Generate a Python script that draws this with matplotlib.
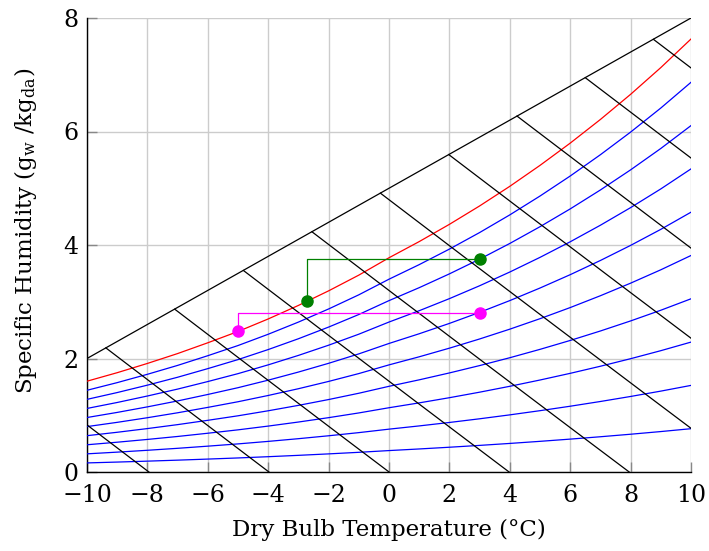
import numpy as np
import matplotlib
matplotlib.use("Agg")
import matplotlib.pyplot as plt

# ---- data ----
temps = list(range(-10, 11))  # °C
sat_humidity = [1.600, 1.750, 1.913, 2.087, 2.277, 2.476, 2.697, 2.935, 3.192, 3.469,
                3.775, 4.060, 4.364, 4.688, 5.034, 5.403, 5.795, 6.212, 6.655, 7.126, 7.630]
rel_humidity = [0.1, 0.2, 0.3, 0.4, 0.5, 0.6, 0.7, 0.8, 0.9]
enthalpy_levels = [-8, -4, 0, 4, 8, 12, 16, 20, 24, 28]  # kJ/kg
boundary_x = [-10, 10]
boundary_y = [2.0, 8.0]

green_x = [-2.7, -2.7, 3.0]
green_y = [3.01, 3.75, 3.75]
green_pts_x = [-2.7, 3.0]
green_pts_y = [3.01, 3.75]

magenta_x = [-5.0, -5.0, 3.0]
magenta_y = [2.476, 2.81, 2.81]
magenta_pts_x = [-5.0, 3.0]
magenta_pts_y = [2.476, 2.81]

xticks = [-10, -8, -6, -4, -2, 0, 2, 4, 6, 8, 10]
yticks = [0, 2, 4, 6, 8]

# ---- figure ----
plt.rcParams['font.family'] = ['DejaVu Serif']
plt.rcParams['mathtext.fontset'] = 'dejavuserif'

fig = plt.figure(figsize=(7.09, 5.51), dpi=100)
ax = fig.add_axes([87/709, 1-472/551, (691-87)/709, (472-18)/551])

t = np.array(temps, dtype=float)
ws = np.array(sat_humidity)

for rh in rel_humidity:
    ax.plot(t, rh * ws, color='blue', lw=0.9, zorder=3)
ax.plot(t, ws, color='red', lw=0.9, zorder=3)

# top boundary
ax.plot(boundary_x, boundary_y, color='black', lw=0.9, zorder=3)

# constant enthalpy lines, clipped at top boundary
tf = np.linspace(-10, 10, 4001)
bound = np.interp(tf, boundary_x, boundary_y)
for h in enthalpy_levels:
    w = 1000 * (h - 1.006 * tf) / (2501 + 1.86 * tf)
    w = np.where(w <= bound + 1e-9, w, np.nan)
    ax.plot(tf, w, color='black', lw=0.9, zorder=3)

ax.plot(green_x, green_y, color='#008000', lw=0.9, zorder=4)
ax.plot(green_pts_x, green_pts_y, 'o', color='#008000', ms=8, zorder=5)
ax.plot(magenta_x, magenta_y, color='#ff00ff', lw=0.9, zorder=4)
ax.plot(magenta_pts_x, magenta_pts_y, 'o', color='#ff00ff', ms=8, zorder=5)

ax.set_xlim(-10, 10)
ax.set_ylim(0, 8)
ax.set_xticks(xticks)
ax.set_yticks(yticks)
ax.set_xticklabels([f"{v}".replace('-', '\u2212') for v in xticks])
ax.grid(True, color='#cccccc', lw=1.0, zorder=0)
ax.set_axisbelow(True)
for s in ['top', 'right']:
    ax.spines[s].set_visible(False)
for s in ['left', 'bottom']:
    ax.spines[s].set_color('black')
    ax.spines[s].set_linewidth(1.0)
ax.tick_params(direction='in', length=7, width=1, color='#888888', labelsize=17)
ax.tick_params(axis='x', pad=9)
ax.tick_params(axis='y', pad=6)

ax.set_xlabel("Dry Bulb Temperature (°C)", fontsize=16.5, labelpad=8)
ax.set_ylabel(r"Specific Humidity (g$_\mathrm{w}$ /kg$_\mathrm{da}$)", fontsize=16.5, labelpad=18)
ax.yaxis.label.set_y(0.53)

fig.savefig("out.png", dpi=100)
